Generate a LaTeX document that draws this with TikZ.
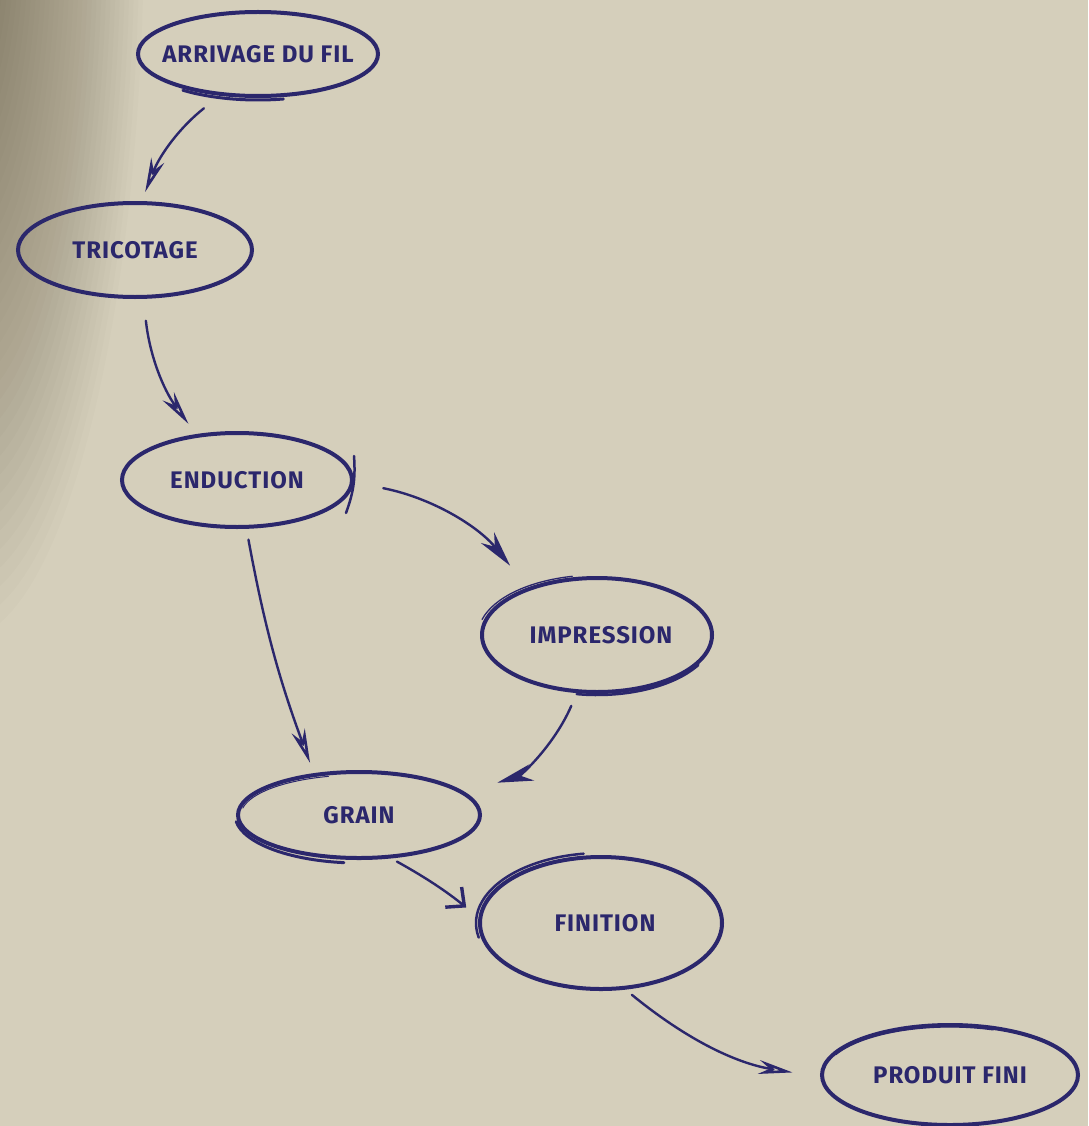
\documentclass[tikz,border=0pt]{standalone}
\usepackage{fontspec}
\setmainfont{Fira Sans}
\newfontfamily\labfont{Fira Sans}[LetterSpace=4.0]
\usetikzlibrary{arrows.meta,shapes.geometric}
\definecolor{ink}{RGB}{43,39,108}
\definecolor{paper}{RGB}{213,207,187}
\definecolor{shadowcol}{RGB}{95,85,60}
\begin{document}
\begin{tikzpicture}[x=1pt,y=-1pt,
  stage/.style={ellipse, draw=ink, line width=4pt, inner sep=0pt, outer sep=0pt,
    text=ink, font=\labfont\fontsize{24}{28}\selectfont\bfseries},
  sketch/.style={draw=ink, line cap=round, line width=#1},
  sketch/.default=1.5pt,
  flow/.style={draw=ink, line width=2.4pt, line cap=round},
  opentip/.style={-{Stealth[open,length=34pt,width=14pt,line width=2.6pt]}},
  filltip/.style={-{Stealth[length=36pt,width=17pt]}},
  barbtip/.style={-{Straight Barb[length=14pt,width=26pt,line width=3.4pt]}}]
\useasboundingbox (0,0) rectangle (1088,1126);
\fill[paper] (0,0) rectangle (1088,1126);
\begin{scope}
  \clip (0,0) rectangle (1088,1126);
  \foreach \k in {1,...,40}
    \fill[shadowcol, opacity=0.025] (-40,-80) ellipse ({4.6*\k} and {18*\k});
\end{scope}

\node[stage, minimum width=240pt, minimum height=84pt]  (arr) at (258,54)   {\makebox[0pt]{ARRIVAGE DU FIL}};
\node[stage, minimum width=234pt, minimum height=94pt]  (tri) at (135,250)  {\makebox[0pt]{TRICOTAGE}};
\node[stage, minimum width=230pt, minimum height=94pt]  (end) at (237,480)  {\makebox[0pt]{ENDUCTION}};
\node[stage, minimum width=230pt, minimum height=114pt] (imp) at (597,635)  {\makebox[0pt]{\hspace{8pt}IMPRESSION}};
\node[stage, minimum width=242pt, minimum height=86pt]  (gra) at (359,815)  {\makebox[0pt]{GRAIN}};
\node[stage, minimum width=242pt, minimum height=132pt] (fin) at (601,923)  {\makebox[0pt]{\hspace{8pt}FINITION}};
\node[stage, minimum width=256pt, minimum height=100pt] (pro) at (950,1075) {\makebox[0pt]{PRODUIT FINI}};

% brush overshoots of the hand-drawn rings
\draw[sketch=3pt] (arr.center) ++(128:122 and 46) arc[start angle=128, end angle=78, x radius=122, y radius=46];
\draw[sketch=2.5pt] ([shift={(117,-24)}]end.center) to[bend left=12] ([shift={(109,33)}]end.center);
\draw[sketch=1.3pt] (imp.center) ++(195:119 and 60) arc[start angle=195, end angle=258, x radius=119, y radius=60];
\draw[sketch=2.5pt] (imp.center) ++(100:117 and 60) arc[start angle=100, end angle=30, x radius=117, y radius=60];
\draw[sketch=3pt] (gra.center) ++(172:124 and 48) arc[start angle=172, end angle=97, x radius=124, y radius=48];
\draw[sketch=1pt] (gra.center) ++(190:118 and 40) arc[start angle=190, end angle=255, x radius=118, y radius=40];
\draw[sketch=2.5pt] (fin.center) ++(168:125 and 70) arc[start angle=168, end angle=262, x radius=125, y radius=70];
\draw[sketch=1.2pt] (pro.center) ++(205:126 and 48) arc[start angle=205, end angle=290, x radius=126, y radius=48];

\draw[flow, opentip, shorten <=23pt, shorten >=12pt] (arr.-132) to[bend right=15] (tri.83);
\draw[flow, opentip, shorten <=24pt, shorten >=15pt] (tri.-80) to[bend right=15] (end.132);
\draw[flow, filltip, shorten <=32pt, shorten >=30pt] (end.-1.5) to[bend left=20] (imp.146);
\draw[flow, opentip, shorten <=13pt, shorten >=13pt] (end.-79) to[bend right=5] (gra.138);
\draw[flow, filltip, shorten <=16pt, shorten >=36pt] (imp.-109) to[bend left=25] (gra.12);
\draw[flow, barbtip, shorten <=10pt, shorten >=18pt] (gra.-55) to[bend left=5] (fin.178);
\draw[flow, opentip, shorten <=11pt, shorten >=30pt] (fin.-71) to[bend right=15] (pro.181);
\end{tikzpicture}
\end{document}
